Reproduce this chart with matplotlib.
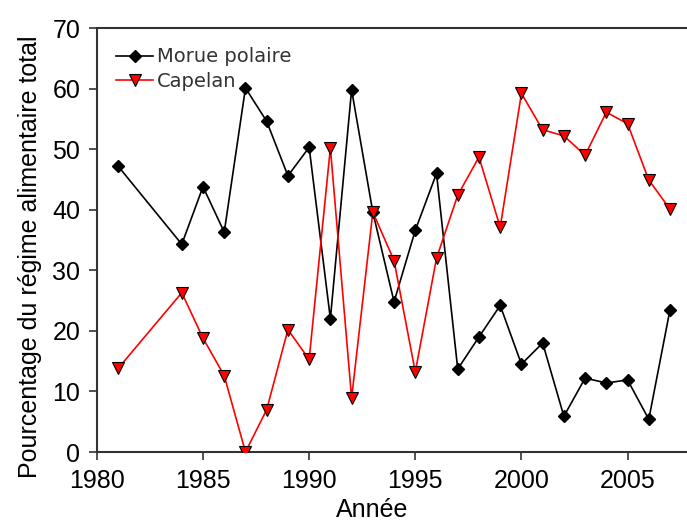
import matplotlib.pyplot as plt

years_morue = [1981, 1984, 1985, 1986, 1987, 1988, 1989, 1990, 1991, 1992,
               1993, 1994, 1995, 1996, 1997, 1998, 1999, 2000, 2001, 2002,
               2003, 2004, 2005, 2006, 2007]
morue = [47.2, 34.3, 43.8, 36.3, 60.1, 54.6, 45.6, 50.3, 22.0, 59.8,
         39.6, 24.8, 36.6, 46.0, 13.7, 19.0, 24.2, 14.5, 18.0, 5.9,
         12.2, 11.4, 11.9, 5.4, 23.5]

years_capelan = list(years_morue)
capelan = [13.8, 26.3, 18.8, 12.6, 0.0, 7.0, 20.2, 15.3, 50.2, 8.9,
           39.6, 31.6, 13.2, 32.0, 42.4, 48.7, 37.1, 59.2, 53.2, 52.2,
           49.0, 56.1, 54.2, 44.9, 40.1]

xticks = [1980, 1985, 1990, 1995, 2000, 2005]
yticks = [0, 10, 20, 30, 40, 50, 60, 70]

plt.rcParams["font.family"] = ["Liberation Sans", "DejaVu Sans"]

fig = plt.figure(figsize=(6.87, 5.21), dpi=100)
ax = fig.add_axes([0.141, 0.1324, 0.859, 0.8138])

ax.plot(years_morue, morue, color="black", lw=1.2, marker="D", ms=6.5,
        mfc="black", mec="black", label="Morue polaire", zorder=3)
ax.plot(years_capelan, capelan, color="red", lw=1.2, marker="v", ms=9,
        mfc="red", mec="black", mew=0.8, label="Capelan", zorder=3)

ax.set_xlim(1980, 2007.8)
ax.set_ylim(0, 70)
ax.set_xticks(xticks)
ax.set_yticks(yticks)
ax.tick_params(direction="out", length=6, width=1.2, color="#333333",
               labelsize=18, pad=6)

for side in ["left", "bottom", "top"]:
    ax.spines[side].set_color("#333333")
    ax.spines[side].set_linewidth(1.5)
ax.spines["right"].set_visible(False)

ax.set_xlabel("Année", fontsize=18)
ax.set_ylabel("Pourcentage du régime alimentaire total", fontsize=18)
ax.xaxis.set_label_coords(0.466, -0.108)
ax.yaxis.set_label_coords(-0.093, 0.46)

leg = ax.legend(loc="upper left", frameon=False, handlelength=1.9,
                handletextpad=0.2, labelspacing=0.28, borderaxespad=0.6,
                prop={"family": "DejaVu Sans", "size": 14})
for t in leg.get_texts():
    t.set_color("#333333")

fig.savefig("out.png", dpi=100)
